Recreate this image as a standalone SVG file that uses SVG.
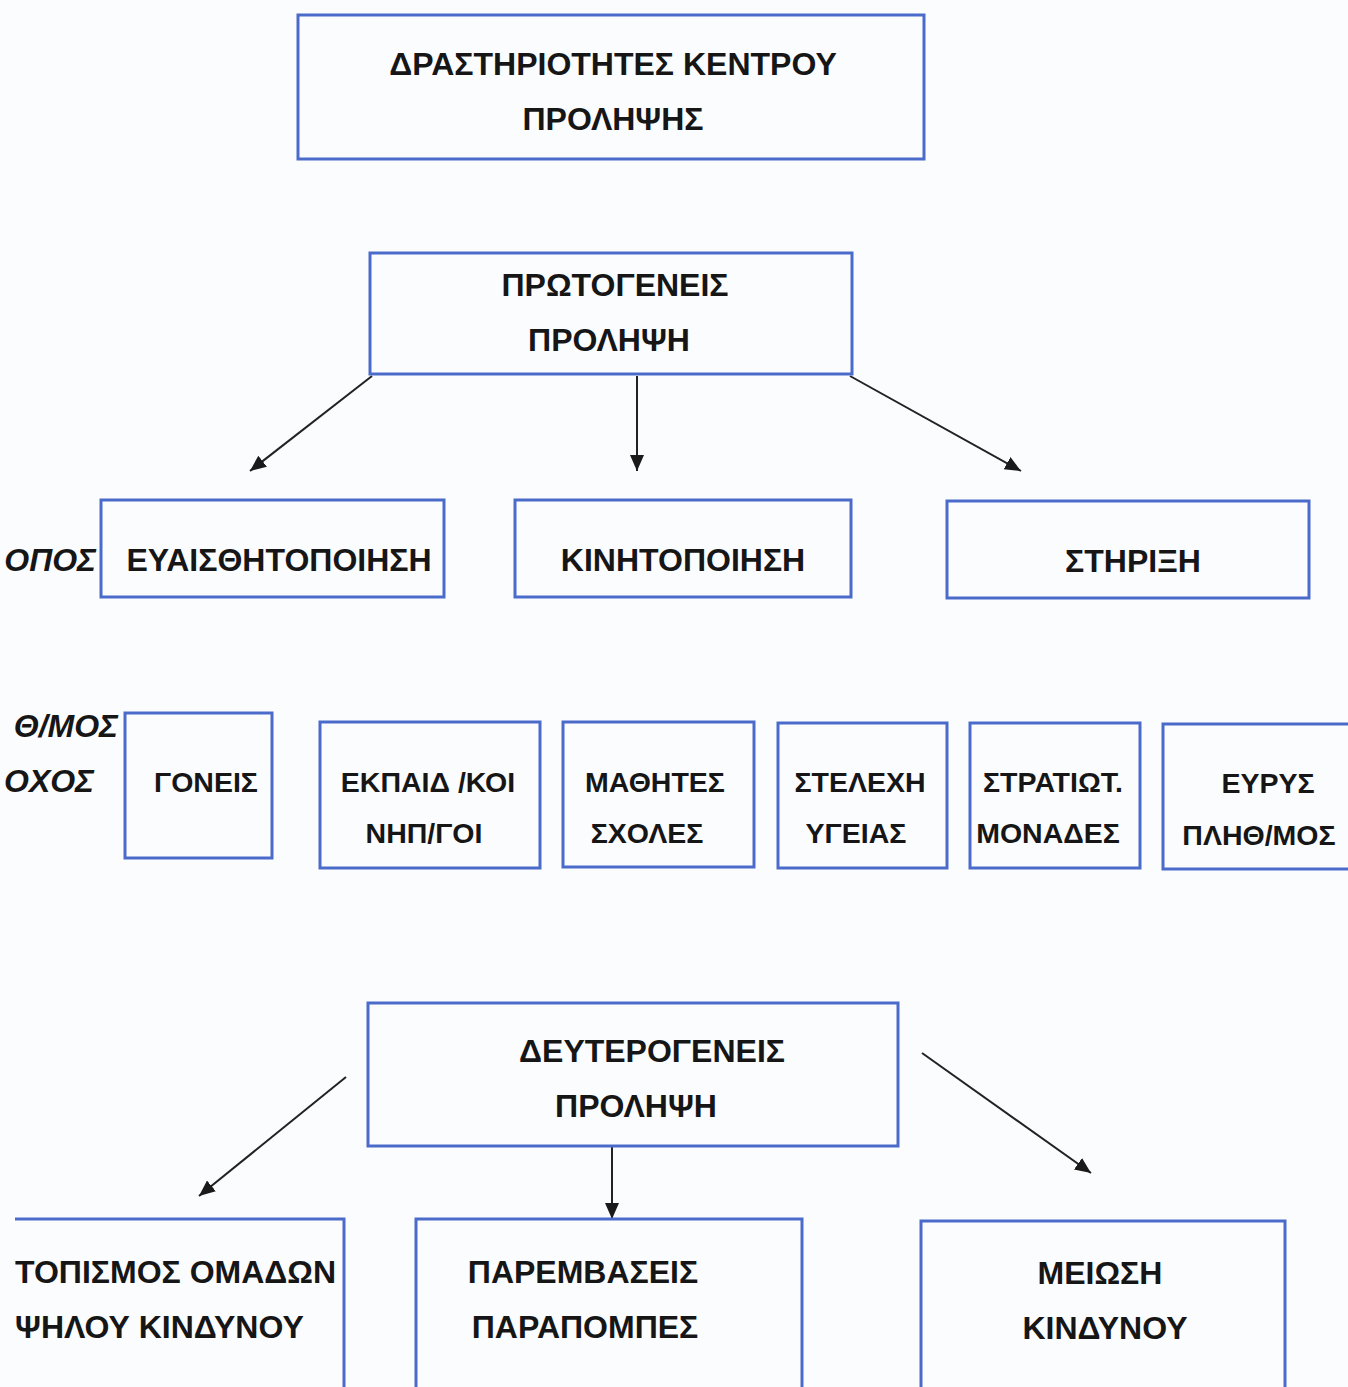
<svg xmlns="http://www.w3.org/2000/svg" width="1348" height="1387" viewBox="0 0 1348 1387">
<defs>
<style>
.box{fill:none;stroke:#4a6bc9;stroke-width:3}
.t{font-family:"Liberation Sans",Arial,sans-serif;font-weight:bold;fill:#161616;text-anchor:middle}
.l{font-size:32px}
.m{font-size:28.5px}
.it{font-family:"Liberation Sans",Arial,sans-serif;font-weight:bold;font-style:italic;fill:#161616;font-size:32px;text-anchor:end}
.c{fill:none;stroke:#222;stroke-width:2}
</style>
<marker id="ah" markerUnits="userSpaceOnUse" markerWidth="18" markerHeight="16" refX="16" refY="7" orient="auto">
<path d="M0,0 L16,7 L0,14 Z" fill="#1a1a1a"/>
</marker>
</defs>
<rect width="1348" height="1387" fill="#fbfcfe"/>

<g id="connectors">
<line class="c" x1="372" y1="376" x2="250" y2="471" marker-end="url(#ah)"/>
<line class="c" x1="637" y1="376" x2="637" y2="471" marker-end="url(#ah)"/>
<line class="c" x1="850" y1="376" x2="1021" y2="471" marker-end="url(#ah)"/>
<line class="c" x1="346" y1="1077" x2="199" y2="1196" marker-end="url(#ah)" stroke="#444"/>
<line class="c" x1="612" y1="1147" x2="612" y2="1219" marker-end="url(#ah)"/>
<line class="c" x1="922" y1="1053" x2="1091" y2="1173" marker-end="url(#ah)"/>
</g>

<g id="n-top">
<rect class="box" x="298" y="15" width="626" height="144"/>
<text class="t l" x="613" y="75">ΔΡΑΣΤΗΡΙΟΤΗΤΕΣ ΚΕΝΤΡΟΥ</text>
<text class="t l" x="613" y="130">ΠΡΟΛΗΨΗΣ</text>
</g>

<g id="n-primary">
<rect class="box" x="370" y="253" width="482" height="121"/>
<text class="t l" x="615" y="296">ΠΡΩΤΟΓΕΝΕΙΣ</text>
<text class="t l" x="609" y="351">ΠΡΟΛΗΨΗ</text>
</g>

<g id="n-frag1">
<text class="it" x="96" y="571">ΟΠΟΣ</text>
</g>

<g id="n-awareness">
<rect class="box" x="101" y="500" width="343" height="97"/>
<text class="t l" x="279" y="571">ΕΥΑΙΣΘΗΤΟΠΟΙΗΣΗ</text>
</g>

<g id="n-mobilization">
<rect class="box" x="515" y="500" width="336" height="97"/>
<text class="t l" x="683" y="571">ΚΙΝΗΤΟΠΟΙΗΣΗ</text>
</g>

<g id="n-support">
<rect class="box" x="947" y="501" width="362" height="97"/>
<text class="t l" x="1133" y="572">ΣΤΗΡΙΞΗ</text>
</g>

<g id="n-frag2">
<text class="it" x="118" y="737">Θ/ΜΟΣ</text>
<text class="it" x="94" y="792">ΟΧΟΣ</text>
</g>

<g id="n-parents">
<rect class="box" x="125" y="713" width="147" height="145"/>
<text class="t m" x="206" y="792">ΓΟΝΕΙΣ</text>
</g>

<g id="n-teachers">
<rect class="box" x="320" y="722" width="220" height="146"/>
<text class="t m" x="428" y="792">ΕΚΠΑΙΔ /ΚΟΙ</text>
<text class="t m" x="424" y="843">ΝΗΠ/ΓΟΙ</text>
</g>

<g id="n-students">
<rect class="box" x="563" y="722" width="191" height="145"/>
<text class="t m" x="655" y="792">ΜΑΘΗΤΕΣ</text>
<text class="t m" x="647" y="843">ΣΧΟΛΕΣ</text>
</g>

<g id="n-health">
<rect class="box" x="778" y="723" width="169" height="145"/>
<text class="t m" x="860" y="792">ΣΤΕΛΕΧΗ</text>
<text class="t m" x="856" y="843">ΥΓΕΙΑΣ</text>
</g>

<g id="n-military">
<rect class="box" x="970" y="723" width="170" height="145"/>
<text class="t m" x="1053" y="792">ΣΤΡΑΤΙΩΤ.</text>
<text class="t m" x="1048" y="843">ΜΟΝΑΔΕΣ</text>
</g>

<g id="n-public">
<rect class="box" x="1163" y="724" width="200" height="145"/>
<text class="t m" x="1268" y="793">ΕΥΡΥΣ</text>
<text class="t m" x="1259" y="845">ΠΛΗΘ/ΜΟΣ</text>
</g>

<g id="n-secondary">
<rect class="box" x="368" y="1003" width="530" height="143"/>
<text class="t l" x="652" y="1062">ΔΕΥΤΕΡΟΓΕΝΕΙΣ</text>
<text class="t l" x="636" y="1117">ΠΡΟΛΗΨΗ</text>
</g>

<g id="n-identify">
<path class="box" d="M15,1219 H344 V1390"/>
<text class="t l" x="15" y="1283" style="text-anchor:start">ΤΟΠΙΣΜΟΣ ΟΜΑΔΩΝ</text>
<text class="t l" x="15" y="1338" style="text-anchor:start">ΨΗΛΟΥ ΚΙΝΔΥΝΟΥ</text>
</g>

<g id="n-interventions">
<path class="box" d="M416,1390 V1219 H802 V1390"/>
<text class="t l" x="583" y="1283">ΠΑΡΕΜΒΑΣΕΙΣ</text>
<text class="t l" x="585" y="1338">ΠΑΡΑΠΟΜΠΕΣ</text>
</g>

<g id="n-risk">
<path class="box" d="M921,1390 V1221 H1285 V1390"/>
<text class="t l" x="1100" y="1284">ΜΕΙΩΣΗ</text>
<text class="t l" x="1105" y="1339">ΚΙΝΔΥΝΟΥ</text>
</g>
</svg>
